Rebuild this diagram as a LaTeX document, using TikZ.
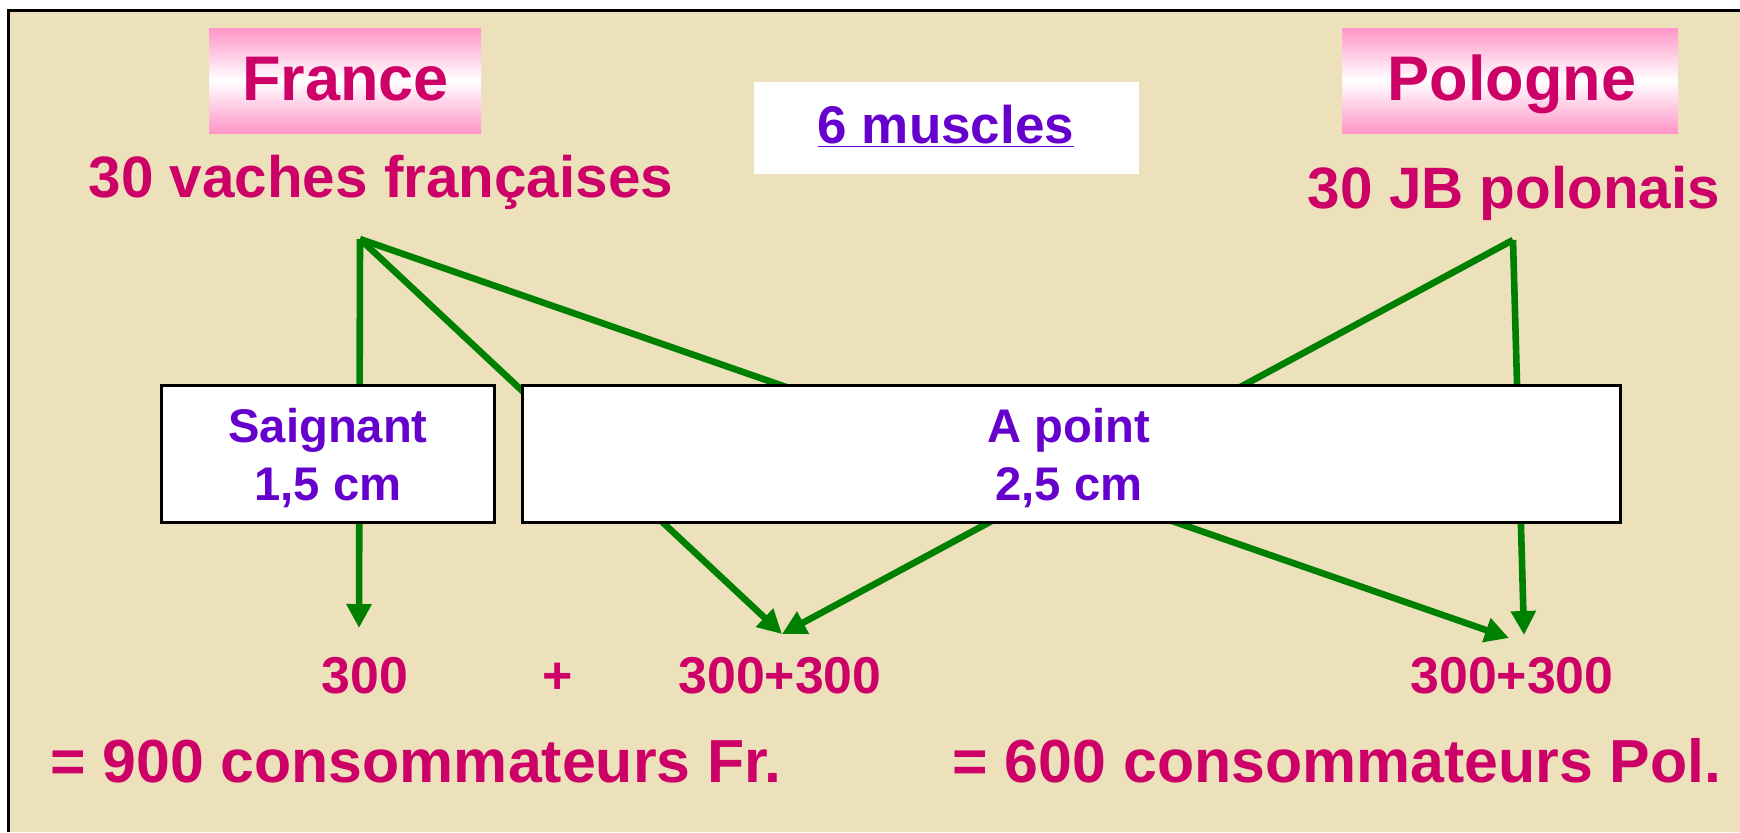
\documentclass[tikz,border=0pt]{standalone}
\usepackage{fontspec}
\setmainfont{Liberation Sans}
\usetikzlibrary{arrows.meta}

\definecolor{parchment}{RGB}{237,225,188}
\definecolor{rosetxt}{RGB}{204,0,102}
\definecolor{violettxt}{RGB}{102,0,204}
\definecolor{vert}{RGB}{0,128,0}
\definecolor{rosebox}{RGB}{255,150,200}

\newcommand{\fsz}[1]{\fontsize{#1}{#1}\selectfont\bfseries}

\begin{document}
\begin{tikzpicture}[x=0.5pt, y=-0.5pt,
    flag/.style={top color=rosebox, bottom color=rosebox, middle color=white,
                 text=rosetxt, minimum width=136pt, minimum height=52.5pt, inner sep=0pt},
    cuisson/.style={draw=black, line width=1.5pt, fill=white, text=violettxt,
                    align=center, inner sep=0pt, minimum height=68.5pt},
    label/.style={text=rosetxt, anchor=base, inner sep=0pt},
    fleche/.style={vert, line width=3.3pt, -{Triangle[length=12pt,width=12pt]}}]
    \useasboundingbox (0,0) rectangle (1740,832);

    % Background and frame
    \fill[white] (0,0) rectangle (1740,832);
    \fill[parchment] (8,10) rectangle (1740,832);
    \draw[line width=1.5pt] (8,832) -- (8,10) -- (1740,10);

    % Apexes and arrow tips
    \coordinate (frApex) at (360,239);
    \coordinate (plApex) at (1513,240);
    \coordinate (tipSaig) at (359,628);
    \coordinate (tipPoint) at (782,634);
    \coordinate (tipDiag) at (1509,638);
    \coordinate (tipPol) at (1524,635);

    % Connectors (drawn first, boxes cover them)
    \draw[fleche] (frApex) -- (tipSaig);
    \draw[fleche] (frApex) -- (tipPoint);
    \draw[fleche] (frApex) -- (tipDiag);
    \draw[fleche] (plApex) -- (tipPoint);
    \draw[fleche] (plApex) -- (tipPol);

    % Country headers
    \node[flag] (france) at (345,80.5) {};
    \node[label] (franceTxt) at (345.5,100) {\fsz{31.5pt}France};
    \node[flag, minimum width=168pt] (pologne) at (1510,80.5) {};
    \node[label] (pologneTxt) at (1512,100) {\fsz{31.5pt}Pologne};

    \node[label] (vaches) at (381,197) {\fsz{29.2pt}30 vaches françaises};
    \node[label] (jb) at (1514,208) {\fsz{29.2pt}30 JB polonais};

    % Muscles box
    \node[fill=white, minimum width=192.5pt, minimum height=46pt, inner sep=0pt] (muscles) at (946.5,128) {};
    \node[anchor=base, inner sep=0pt, text=violettxt] (musclesTxt) at (946,143)
        {\fsz{26.5pt}\underline{6 muscles}};

    % Cooking boxes
    \node[cuisson, minimum width=166.5pt] (saignant) at (327.5,453.5) {};
    \node[anchor=base, inner sep=0pt, text=violettxt] at (328,442) {\fsz{23.6pt}Saignant};
    \node[anchor=base, inner sep=0pt, text=violettxt] at (328,500) {\fsz{23.6pt}1,5 cm};
    \node[cuisson, minimum width=549pt] (apoint) at (1071,453.5) {};
    \node[anchor=base, inner sep=0pt, text=violettxt] at (1069,442) {\fsz{23.6pt}A point};
    \node[anchor=base, inner sep=0pt, text=violettxt] at (1069,500) {\fsz{23.6pt}2,5 cm};

    % Counts
    \node[label] (n300) at (365,693) {\fsz{25.9pt}300};
    \node[label] (plus) at (558,693) {\fsz{25.9pt}+};
    \node[label] (n600fr) at (780,693) {\fsz{25.9pt}300+300};
    \node[label] (n600pl) at (1512,693) {\fsz{25.9pt}300+300};

    % Totals
    \node[label] (totFr) at (416,782) {\fsz{30.4pt}= 900 consommateurs Fr.};
    \node[label] (totPl) at (1337,782) {\fsz{30.4pt}= 600 consommateurs Pol.};
\end{tikzpicture}
\end{document}
